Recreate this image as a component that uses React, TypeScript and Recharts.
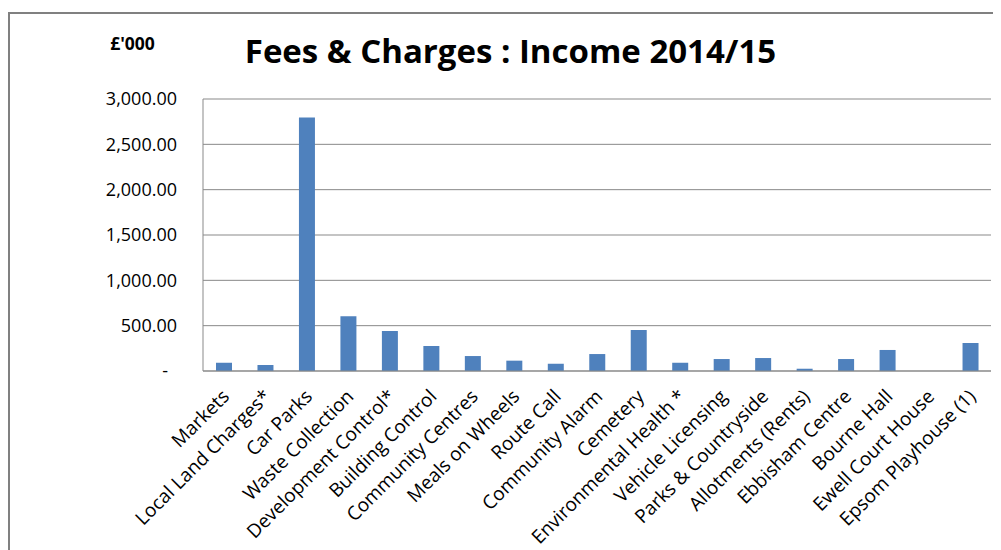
import React from "react";
import { BarChart, Bar, XAxis, YAxis, CartesianGrid } from "recharts";

const categories = [
  "Markets",
  "Local Land Charges*",
  "Car Parks",
  "Waste Collection",
  "Development Control*",
  "Building Control",
  "Community Centres",
  "Meals on Wheels",
  "Route Call",
  "Community Alarm",
  "Cemetery",
  "Environmental Health *",
  "Vehicle Licensing",
  "Parks & Countryside",
  "Allotments (Rents)",
  "Ebbisham Centre",
  "Bourne Hall",
  "Ewell Court House",
  "Epsom Playhouse (1)",
];

const income = [91, 66, 2797, 603, 441, 276, 165, 114, 80, 187, 452, 91, 132, 143, 25, 132, 232, 0, 309];

const yTicks = [0, 500, 1000, 1500, 2000, 2500, 3000];

const title = "Fees & Charges : Income 2014/15";
const unitLabel = "£'000";

const data = categories.map((name, i) => ({ name, value: income[i] }));

const FONT = "'Open Sans', sans-serif";
const GRID = "#898989";

const fmt = (v: number) =>
  v === 0
    ? "-"
    : v.toLocaleString("en-GB", { minimumFractionDigits: 2, maximumFractionDigits: 2 });

const XTick = (props: any) => {
  const { x, y, payload } = props;
  return (
    <g transform={`translate(${x + 2},${y + 22})`}>
      <text
        textAnchor="end"
        transform="rotate(-45)"
        dy="0.35em"
        fontSize={19}
        fontFamily={FONT}
        fill="#000"
      >
        {payload.value}
      </text>
    </g>
  );
};

const YTick = (props: any) => {
  const { x, y, payload } = props;
  const isZero = payload.value === 0;
  return (
    <text
      x={x + (isZero ? -9 : 0)}
      y={y}
      dy="0.35em"
      textAnchor="end"
      fontSize={18}
      fontFamily={FONT}
      fill="#000"
    >
      {fmt(payload.value)}
    </text>
  );
};

export default function App() {
  return (
    <div style={{ position: "relative", width: 993, height: 542, overflow: "hidden", background: "#fff" }}>
      <div
        style={{
          position: "absolute",
          left: 0,
          top: 4,
          width: 2000,
          height: 2000,
          borderTop: "2px solid #808080",
          borderLeft: "2px solid #808080",
        }}
      />
      <BarChart
        width={993}
        height={542}
        data={data}
        margin={{ top: 91, right: 10, bottom: 9, left: 0 }}
        barSize={16}
      >
        <CartesianGrid vertical={false} stroke={GRID} strokeWidth={1} />
        <XAxis
          dataKey="name"
          interval={0}
          height={170}
          tickLine={false}
          tickSize={0}
          tickMargin={0}
          axisLine={{ stroke: GRID }}
          tick={<XTick />}
        />
        <YAxis
          width={195}
          domain={[0, 3000]}
          ticks={yTicks}
          tickLine={false}
          tickSize={0}
          tickMargin={26}
          axisLine={{ stroke: GRID }}
          tick={<YTick />}
        />
        <Bar dataKey="value" fill="#4F81BD" isAnimationActive={false} />
      </BarChart>
      <svg
        width={993}
        height={542}
        style={{ position: "absolute", left: 0, top: 0, pointerEvents: "none" }}
      >
        <text x={502.5} y={55} textAnchor="middle" fontSize={33} fontWeight="bold" fontFamily={FONT} fill="#000">
          {title}
        </text>
        <text x={124.5} y={42} textAnchor="middle" fontSize={17.5} fontWeight="bold" fontFamily={FONT} fill="#000">
          {unitLabel}
        </text>
      </svg>
    </div>
  );
}
